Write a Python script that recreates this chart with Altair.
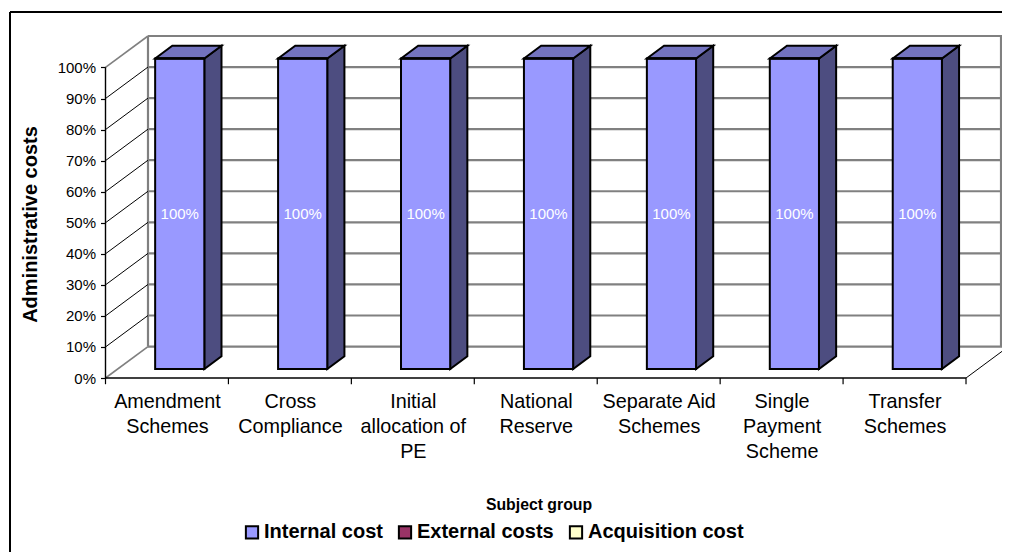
import altair as alt
import pandas as pd
import json

categories = ["Amendment Schemes", "Cross Compliance", "Initial allocation of PE", "National Reserve",
              "Separate Aid Schemes", "Single Payment Scheme", "Transfer Schemes"]
label_lines = ["Amendment|Schemes", "Cross|Compliance", "Initial|allocation of|PE", "National|Reserve",
               "Separate Aid|Schemes", "Single|Payment|Scheme", "Transfer|Schemes"]
series = ["Internal cost", "External costs", "Acquisition cost"]
series_colors = ["#9999FF", "#993366", "#FFFFCC"]
internal = [100, 100, 100, 100, 100, 100, 100]
external = [0, 0, 0, 0, 0, 0, 0]
acquisition = [0, 0, 0, 0, 0, 0, 0]
y_ticks = [0, 10, 20, 30, 40, 50, 60, 70, 80, 90, 100]
SIDE = "#4D4D80"
TOP = "#7373BF"
GREY = "#808080"

# 3-D projection: one unit of depth moves a point this far in data units
DX, DY = 0.3457, 10.13
D0, D1 = 0.286, 0.69      # bar depth span
B0, B1 = 0.305, 0.705     # bar span within its category
n = len(categories)
PLOT_W = 896.5            # the page allows 994 px in all
X_END = PLOT_W / 122.93   # visible end of the x scale

x_scale = alt.Scale(domain=[0, X_END], nice=False, zero=False)
y_scale = alt.Scale(domain=[0, 100 + DY], nice=False, zero=False)

label_arr = json.dumps(label_lines)
y_axis = alt.Axis(values=y_ticks, labelExpr="datum.value + '%'", domain=False, grid=False,
                  tickColor="black", tickSize=5, tickWidth=1.2, labelPadding=5,
                  labelFont="Liberation Sans", labelFontSize=15, labelColor="black",
                  title="Administrative costs", titleFont="Liberation Sans", titleFontSize=20,
                  titleFontWeight="bold", titleColor="black", titleX=-65, titleY=188, titleAngle=270)
x_axis = alt.Axis(values=[i + 0.5 for i in range(n)],
                  labelExpr=f"split({label_arr}[round(datum.value - 0.5)], '|')",
                  domain=False, grid=False, ticks=False, labelPadding=13, labelAngle=0,
                  labelFont="Liberation Sans", labelFontSize=19.8, labelColor="black",
                  labelOverlap=False, labelBound=False, labelFlush=False, labelLineHeight=25,
                  title="Subject group", titleFont="Liberation Sans", titleFontSize=15.8,
                  titleFontWeight="bold", titleColor="black", titleX=433, titleY=119)
X = lambda f="x": alt.X(f"{f}:Q", scale=x_scale, axis=x_axis)
Y = lambda f="y": alt.Y(f"{f}:Q", scale=y_scale, axis=y_axis)

# walls ---------------------------------------------------------------
back_grid = pd.DataFrame({"x": DX, "x2": n + DX, "y": [v + DY for v in y_ticks]})
wall_v = pd.DataFrame({"x": [DX, X_END - 0.008], "y": DY, "y2": 100 + DY})
diag = pd.DataFrame({"x": 0.0, "x2": DX, "y": y_ticks, "y2": [v + DY for v in y_ticks]})
diag_in = diag[(diag.y > 0) & (diag.y < 100)]
diag_out = diag[(diag.y == 0) | (diag.y == 100)]
floor_r = pd.DataFrame({"x": [float(n)], "x2": [n + DX], "y": [0.0], "y2": [DY]})


def rule(df, color, w):
    enc = {"x": X(), "y": Y()}
    if "x2" in df:
        enc["x2"] = "x2:Q"
    if "y2" in df:
        enc["y2"] = "y2:Q"
    return alt.Chart(df).mark_rule(color=color, strokeWidth=w).encode(**enc)


# front axes ----------------------------------------------------------
x_line = rule(pd.DataFrame({"x": [0.0], "x2": [float(n)], "y": [0.0]}), "black", 1.4)
y_line = rule(pd.DataFrame({"x": [0.0], "y": [0.0], "y2": [100.0]}), "black", 1.4)
x_ticks = rule(pd.DataFrame({"x": [float(i) for i in range(n + 1)], "y": 0.0, "y2": -2.0}), "black", 1.2)

# bars ----------------------------------------------------------------
fronts, sides, tops, labels = [], [], [], []
for i, cat in enumerate(categories):
    xl, xr = i + B0, i + B1
    base = 0
    for s, vals in zip(series, [internal, external, acquisition]):
        v = vals[i]
        fronts.append({"series": s, "x": xl + D0 * DX, "x2": xr + D0 * DX,
                       "y": base + D0 * DY, "y2": base + v + D0 * DY})
        base += v
    fx0, fx1 = D0 * DX, D1 * DX
    fy0, fy1 = D0 * DY, D1 * DY
    sides += [{"c": cat, "x": xr + fx0, "y": base + fy0, "y2": fy0},
              {"c": cat, "x": xr + fx1, "y": base + fy1, "y2": fy1}]
    tops += [{"c": cat, "x": xl + fx0, "y": base + fy0, "y2": base + fy0},
             {"c": cat, "x": xl + fx1, "y": base + fy1, "y2": base + fy0},
             {"c": cat, "x": xr + fx0, "y": base + fy1, "y2": base + fy0},
             {"c": cat, "x": xr + fx1, "y": base + fy1, "y2": base + fy1}]
    labels.append({"x": (xl + xr) / 2 + fx0, "y": internal[i] / 2 + fy0, "t": f"{internal[i]}%"})

front = alt.Chart(pd.DataFrame(fronts)).mark_rect(stroke="black", strokeWidth=2).encode(
    x=X(), x2="x2:Q", y=Y(), y2="y2:Q",
    color=alt.Color("series:N", scale=alt.Scale(domain=series, range=series_colors),
                    legend=alt.Legend(title=None, orient="none", legendX=136.5, legendY=486,
                                      direction="horizontal", columns=3, symbolType="square",
                                      symbolSize=150, symbolStrokeColor="black", symbolStrokeWidth=2,
                                      symbolOpacity=1, labelFont="Liberation Sans", labelFontSize=20,
                                      labelFontWeight="bold", labelColor="black", labelOffset=2,
                                      columnPadding=11, labelLimit=300)))
side = alt.Chart(pd.DataFrame(sides)).mark_area(color=SIDE, stroke="black", strokeWidth=2, opacity=1).encode(
    x=X(), y=Y(), y2="y2:Q", detail="c:N")
top = alt.Chart(pd.DataFrame(tops)).mark_area(color=TOP, stroke="black", strokeWidth=2, opacity=1).encode(
    x=X(), y=Y(), y2="y2:Q", detail="c:N")
text = alt.Chart(pd.DataFrame(labels)).mark_text(color="white", font="Liberation Sans", fontSize=15).encode(
    x=X(), y=Y(), text="t:N")

# outer frame ---------------------------------------------------------
frame_l = alt.Chart(pd.DataFrame({"a": [0]})).mark_rule(color="black", strokeWidth=2).encode(
    x=alt.value(-95.5), y=alt.value(-24), y2=alt.value(520))
frame_t = alt.Chart(pd.DataFrame({"a": [0]})).mark_rule(color="black", strokeWidth=2).encode(
    y=alt.value(-24), x=alt.value(-95.5), x2=alt.value(910))

chart = alt.layer(
    frame_l, frame_t,
    rule(back_grid, GREY, 2.2),
    rule(wall_v, GREY, 2.2),
    rule(diag_in, "black", 1),
    rule(diag_out, GREY, 1.6),
    rule(floor_r, "black", 1),
    x_line, y_line, x_ticks,
    side, top, front, text,
).properties(
    width=PLOT_W, height=342, autosize="none",
    padding={"left": 97.5, "top": 28, "right": 0, "bottom": 174},
    background="white",
).configure_view(stroke=None)

chart.save("out.html", embed_options={"renderer": "svg", "actions": False})
